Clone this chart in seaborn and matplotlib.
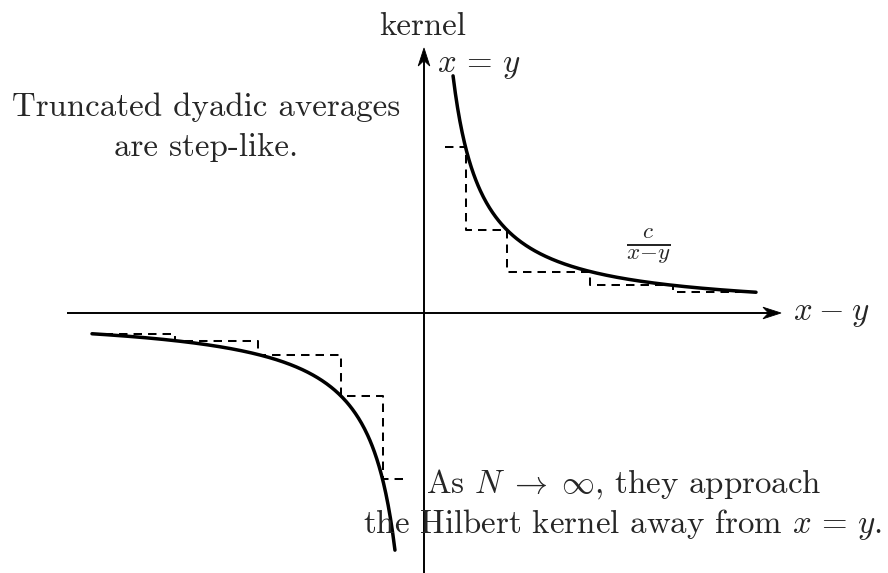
import numpy as np
import pandas as pd
import matplotlib
matplotlib.use("Agg")
import matplotlib.pyplot as plt
import seaborn as sns

# Kernel c / (x - y) with c = 1, drawn away from the singularity
kernel_c = 1.0
curve_start = 0.35
curve_end = 4.0

# Truncated dyadic averages on the positive side (mirrored for x - y < 0)
step_edges = [0.25, 0.5, 1.0, 2.0, 3.0, 4.0]
step_heights = [2.0, 1.0, 0.5, 1 / 3, 0.25]

sns.set_theme(style="white")
plt.rcParams["font.family"] = ["cmr10"]
plt.rcParams["mathtext.fontset"] = "cm"
plt.rcParams["axes.unicode_minus"] = False
plt.rcParams["axes.formatter.use_mathtext"] = True

W, H = 888, 573
PX = 83.0            # pixels per unit
OX, OY = 424, 313    # pixel position of the origin
FS = 23.7

fig = plt.figure(figsize=(W / 100, H / 100), dpi=100)
ax = fig.add_axes([0, 0, 1, 1])
ax.set_xlim(-OX / PX, (W - OX) / PX)
ax.set_ylim(-(H - OY) / PX, OY / PX)
ax.axis("off")


def P(x, y):
    """Figure pixel position -> data coordinates."""
    return (x - OX) / PX, (OY - y) / PX


def stealth(tip, direction):
    """Stealth-style arrow head at pixel position tip, pointing along direction."""
    dx, dy = direction
    nx, ny = -dy, dx
    L, notch, hw = 18.0, 12.5, 5.8
    tx, ty = tip
    pts = [(tx, ty),
           (tx - dx * L + nx * hw, ty - dy * L + ny * hw),
           (tx - dx * notch, ty - dy * notch),
           (tx - dx * L - nx * hw, ty - dy * L - ny * hw)]
    xs, ys = zip(*[P(*p) for p in pts])
    ax.fill(xs, ys, color="black", lw=0.6, ec="black", zorder=3, joinstyle="miter")


# axes
ax.plot(*zip(P(67, OY), P(772, OY)), color="black", lw=1.4, zorder=3,
        solid_capstyle="butt")
ax.plot(*zip(P(OX, 580), P(OX, 57)), color="black", lw=1.4, zorder=3,
        solid_capstyle="butt")
stealth((781, OY), (1, 0))
stealth((OX, 48), (0, -1))

# the kernel itself
t = np.linspace(curve_start, curve_end, 400)
pos = pd.DataFrame({"x": t, "k": kernel_c / t})
neg = pd.DataFrame({"x": -t, "k": -kernel_c / t})
for d in (pos, neg):
    sns.lineplot(data=d, x="x", y="k", ax=ax, color="black", lw=2.5,
                 sort=False, estimator=None, zorder=4)

# step-like truncated averages
sx = np.array(step_edges)
sy = np.array(step_heights + [step_heights[-1]])
dash = (0, (4.2, 3.0))
for sgn in (1, -1):
    d = pd.DataFrame({"x": sgn * sx, "k": sgn * sy})
    sns.lineplot(data=d, x="x", y="k", ax=ax, color="black", lw=1.45,
                 drawstyle="steps-post", linestyle=dash,
                 sort=False, estimator=None, zorder=2)

# labels
ax.text(*P(423, 35), "kernel", ha="center", va="baseline", fontsize=FS)
ax.text(*P(437, 72), r"$x\,=\,y$", ha="left", va="baseline", fontsize=FS)
ax.text(*P(793, OY + 1), r"$x\:{-}\;y$", ha="left", va="center", fontsize=FS)
ax.text(*P(648, 246), r"$\frac{c}{x{-}y}$", ha="center", va="center", fontsize=FS)

ax.text(*P(206, 116), "Truncated dyadic averages", ha="center", va="baseline", fontsize=FS)
ax.text(*P(206, 156), "are step-like.", ha="center", va="baseline", fontsize=FS)

ax.text(*P(624, 493), r"As $N\;\to\;\infty$, they approach", ha="center",
        va="baseline", fontsize=FS, zorder=5)
ax.text(*P(623, 533), r"the Hilbert kernel away from $x\,=\,y$.", ha="center",
        va="baseline", fontsize=FS, zorder=5)

fig.savefig("out.png", dpi=100)
